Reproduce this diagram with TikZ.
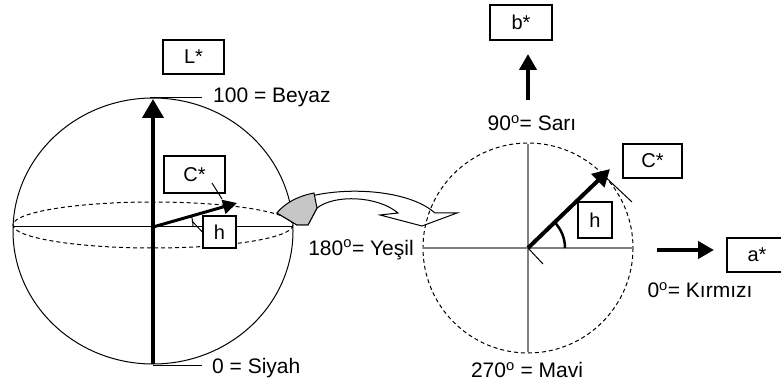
\documentclass[tikz,border=0pt]{standalone}
\usepackage{fontspec}
\setmainfont{Liberation Sans}
\usetikzlibrary{arrows.meta}

\begin{document}
\begin{tikzpicture}[x=1pt,y=-1pt,
  txt/.style={font=\fontsize{21}{25}\selectfont, inner sep=0pt},
  box/.style={draw, line width=1.4pt, fill=white, minimum height=34pt, inner sep=0pt, font=\fontsize{20}{24}\selectfont},
  axis/.style={line width=4pt, -{Triangle[length=19pt,width=21pt]}},
  vec/.style={line width=3.5pt, -{Triangle[length=16pt,width=17pt]}},
  thin/.style={line width=1pt},
  dotline/.style={line width=1pt, dash pattern=on 4pt off 3pt},
  grayaxis/.style={gray, line width=1.5pt}]

% Parameters
\def\rx{140}          % sphere half width
\def\ry{133}          % sphere half height
\def\rr{105}          % radius of the hue circle

\useasboundingbox (0,0) rectangle (781,387);

% Left: the colour sphere
\coordinate (o) at (153,227);
\draw[thin] (153,231) ellipse [x radius=\rx, y radius=\ry];
\draw[thin] (13,227) -- (293,227);
\draw[dotline] (153,225) ellipse [x radius=\rx, y radius=23];

% Lightness axis
\coordinate (lbot) at (153,364);
\coordinate (ltop) at (153,99);
\draw[axis] (lbot) -- (ltop);
\draw[thin] (150,98) -- (202,98);
\draw[thin] (153,365) -- (202,365);
\node[txt, anchor=west] (beyaz) at (213,97) {100 = Beyaz};
\node[txt, anchor=west] (siyah) at (212,368) {0 = Siyah};
\node[box, minimum width=61pt] (lstar) at (193.5,57) {L*};

% Chroma and hue in the sphere
\coordinate (ctip) at (237,203);
\draw[line width=3pt, -{Triangle[length=14pt,width=14pt]}] (o) -- (ctip);
\draw[thin] (o) ++(40,0) arc[start angle=0, end angle=-17, radius=40];
\node[box, minimum width=61pt, minimum height=37pt] (cleft) at (194.5,174.5) {C*};
\node[box, minimum width=33pt, minimum height=32pt] (hleft) at (219.5,232) {h};
\coordinate (cmark) at (212,183);
\coordinate (cend) at (222,199);
\draw[thin] (cmark) -- (cend);
\coordinate (amark) at (192,221);
\draw[thin] (amark) -- (hleft.west);

% Curved arrow between the two views
\draw[thin, fill=white] (277,213) .. controls (300,186) and (400,182) .. (435,213)
  -- (457,213) -- (422,226) -- (380,215) -- (398,213)
  .. controls (378,196) and (335,194) .. (317,208) -- (308,225) -- (297,225) -- cycle;
\draw[thin, fill=gray!45] (277,213) .. controls (285,203) and (298,196) .. (314,193)
  -- (317,208) -- (308,225) -- (297,225) -- cycle;

% Right: the hue circle
\coordinate (p) at (528,248);
\draw[dotline] (p) circle [radius=\rr];
\draw[grayaxis] (423,248) -- (633,248);
\draw[grayaxis] (528,144) -- (528,352);
\coordinate (ptip) at (610,169);
\draw[line width=4pt, -{Triangle[length=17pt,width=18pt]}] (p) -- (ptip);
\draw[line width=2.5pt] (p) ++(37,0) arc[start angle=0, end angle=-44, radius=37];
\coordinate (pdown) at (543,264);
\draw[thin] (p) -- (pdown);
\coordinate (ta) at (600,172);
\coordinate (tb) at (632,202);
\draw[thin] (ta) -- (tb);
\node[box, minimum width=34pt, minimum height=36pt] (hright) at (595,220) {h};
\node[box, minimum width=59pt] (cright) at (652.5,161) {C*};

% b* and a* axes
\node[box, minimum width=62pt, minimum height=35pt] (bstar) at (521,22.5) {b*};
\coordinate (bfrom) at (528,100);
\coordinate (bto) at (528,54);
\draw[vec, line width=4pt] (bfrom) -- (bto);
\node[box, minimum width=60pt] (astar) at (757,255) {a*};
\coordinate (afrom) at (657,250);
\coordinate (ato) at (714,250);
\draw[vec, line width=4pt] (afrom) -- (ato);

% Labels
\node[txt] (sari) at (532,123) {90\textsuperscript{o}= Sarı};
\node[txt] (yesil) at (361,250) {180\textsuperscript{o}= Yeşil};
\node[txt] (mavi) at (527,370) {270\textsuperscript{o} = Mavi};
\node[txt] (kirmizi) at (700,290) {0\textsuperscript{o}= Kırmızı};

\end{tikzpicture}
\end{document}
